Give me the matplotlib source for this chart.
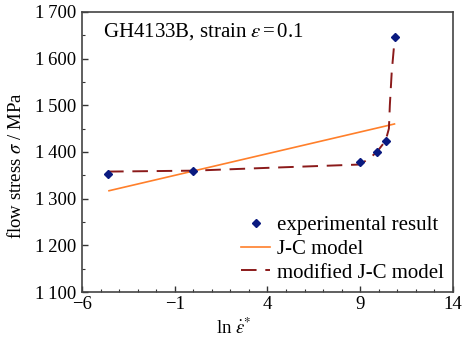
import matplotlib
matplotlib.use('Agg')
import matplotlib.pyplot as plt
from matplotlib.ticker import MultipleLocator, FuncFormatter

plt.rcParams['font.family'] = ['Liberation Serif', 'DejaVu Serif']
plt.rcParams['mathtext.fontset'] = 'stix'

# experimental points
exp_x = [-4.6, 0.0, 9.0, 9.9, 10.37, 10.87]
exp_y = [1352, 1360, 1378, 1400, 1424, 1647]

# J-C model (straight line)
jc_x = [-4.55, 10.85]
jc_y = [1317, 1460]

# modified J-C model
mjc_x = [-4.6, 0.0, 4.0, 8.9, 9.4, 9.9, 10.37, 10.55, 10.6, 10.7, 10.87]
mjc_y = [1358, 1360, 1366, 1373, 1383, 1400, 1424, 1450, 1500, 1570, 1647]

fig = plt.figure(figsize=(4.64, 3.40), dpi=100)
ax = fig.add_axes([0.177, 0.141, 0.799, 0.824])

ax.plot(jc_x, jc_y, color='#FF7F2A', lw=1.2, label='J-C model')
ax.plot(mjc_x, mjc_y, color='#8B1A1A', lw=1.4, dashes=(8, 4.5), label='modified J-C model')
ax.plot(exp_x, exp_y, 'D', color='#0A1A80', ms=4.5, ls='none', label='experimental result')

ax.set_xlim(-6, 14)
ax.set_ylim(1100, 1700)
ax.set_xticks([-6, -1, 4, 9, 14])
ax.xaxis.set_minor_locator(MultipleLocator(1))
ax.yaxis.set_major_locator(MultipleLocator(100))
ax.yaxis.set_minor_locator(MultipleLocator(50))
ax.yaxis.set_major_formatter(FuncFormatter(lambda v, p: '%d\u2009%03d' % (int(v) // 1000, int(v) % 1000)))
ax.xaxis.set_major_formatter(FuncFormatter(lambda v, p: ('\u2212%d' % -v) if v < 0 else '%d' % v))

ax.tick_params(which='both', direction='in', top=False, right=False, labelsize=13.5, color='#333333')
ax.tick_params(which='major', length=4, width=1)
ax.tick_params(which='minor', length=2.5, width=0.8)
ax.tick_params(axis='x', pad=3)
ax.tick_params(axis='y', pad=4)
for s in ax.spines.values():
    s.set_color('#444444')
    s.set_linewidth(1.2)

ax.set_xlabel(r'ln $\dot{\varepsilon}^{*}$', fontsize=13.5, labelpad=0)
ax.xaxis.set_label_coords(0.41, -0.09)
ax.set_ylabel(r'flow stress $\sigma$ / MPa', fontsize=13.5, labelpad=3)
ax.yaxis.set_label_coords(-0.155, 0.45)

ax.text(0.055, 0.93, r'GH4133B, strain $\varepsilon\,$=$\,$0.1', transform=ax.transAxes,
        fontsize=15, va='center')

h, l = ax.get_legend_handles_labels()
order = [2, 0, 1]
ax.legend([h[i] for i in order], [l[i] for i in order], loc='lower right', frameon=False,
          fontsize=15, handlelength=1.4, handletextpad=0.3, labelspacing=0.2,
          borderaxespad=0.05, bbox_to_anchor=(1.0, 0.0))

fig.savefig('out.png', dpi=100)
